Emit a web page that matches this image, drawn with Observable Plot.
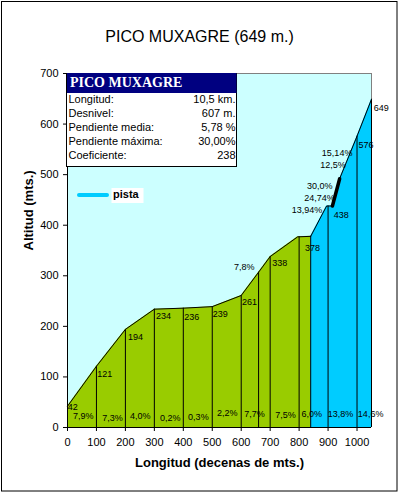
<!DOCTYPE html>
<html><head><meta charset="utf-8">
<script src="https://cdn.jsdelivr.net/npm/d3@7"></script>
<script src="https://cdn.jsdelivr.net/npm/@observablehq/plot@0.6"></script>
<style>body{margin:0;background:#fff}#chart{width:399px;height:493px}</style>
</head><body><div id="chart"></div><script>
const chartTitle = "PICO MUXAGRE (649 m.)";
const xTitle = "Longitud (decenas de mts.)";
const yTitle = "Altitud (mts.)";
const xTicks = [0,100,200,300,400,500,600,700,800,900,1000];
const yTicks = [0,100,200,300,400,500,600,700];

const greenDist = [0,100,200,300,400,500,600,660,700,795,840];
const greenAlt  = [42,121,194,234,236,239,261,307,338,377,378];
const blueDist  = [840,895,915,940,1000,1050];
const blueAlt   = [378,438,438,492,576,649];
const steepDist = [915,940];
const steepAlt  = [438,492];

const dividerDist = [100,200,300,400,500,600,660,700,800,840,900,1000,1050];
const dividerTop  = [121,194,234,236,239,261,307,338,377,378,438,576,649];

const altText = ["42","121","194","234","236","239","261","338","378","438","576","649"];
const altDist = [1,103,209,306,403,502,603,707,820,920,1005,1058];
const altPos  = [41,105,178,220,219,225,247,325,354,419,559,631];

const gradeText = ["7,9%","7,3%","4,0%","0,2%","0,3%","2,2%","7,7%","7,5%","6,0%","13,8%","14,6%"];
const gradeDist = [54,155,251,355,452,552,646,753,844,943,1047];
const gradePos  = [22,18,22,18,20,28,26,24,26,26,26];

const steepText = ["7,8%","13,94%","24,74%","30,0%","12,5%","15,14%"];
const steepTextDist = [646,880,923,915,961,984];
const steepTextPos  = [318,429,454,477,518,543];

const infoTitle = "PICO MUXAGRE";
const infoNames = ["Longitud:","Desnivel:","Pendiente media:","Pendiente máxima:","Coeficiente:"];
const infoValues = ["10,5 km.","607 m.","5,78 %","30,00%","238"];
const legendName = "pista";

const green = greenDist.map((x,i)=>({x, y: greenAlt[i]}));
const blue = blueDist.map((x,i)=>({x, y: blueAlt[i]}));
const steep = steepDist.map((x,i)=>({x, y: steepAlt[i]}));
const dividers = dividerDist.map((x,i)=>({x, top: dividerTop[i]}));
const altLabels = altText.map((t,i)=>({t, x: altDist[i], y: altPos[i]}));
const grades = gradeText.map((t,i)=>({t, x: gradeDist[i], y: gradePos[i]}));
const steepLabels = steepText.map((t,i)=>({t, x: steepTextDist[i], y: steepTextPos[i]}));

const font = "Liberation Sans, Arial, sans-serif";
const plot = Plot.plot({
  width: 399, height: 493,
  marginLeft: 67, marginRight: 28, marginTop: 73, marginBottom: 66,
  x: {domain: [0,1050]},
  y: {domain: [0,700]},
  style: {fontFamily: font, fontSize: "11px", background: "#fff", color: "#000", overflow: "visible"},
  marks: [
    Plot.frame({fill: "#CCFFFF", stroke: null}),
    Plot.ruleY([700], {stroke: "#808080"}),
    Plot.ruleX([1050], {stroke: "#808080"}),
    Plot.areaY(green, {x: "x", y: "y", fill: "#99CC00"}),
    Plot.areaY(blue, {x: "x", y: "y", fill: "#00CCFF"}),
    Plot.line(green, {x: "x", y: "y", stroke: "#000", strokeWidth: 1}),
    Plot.line(blue, {x: "x", y: "y", stroke: "#000", strokeWidth: 1}),
    Plot.line(steep, {x: "x", y: "y", stroke: "#000", strokeWidth: 3.5}),
    Plot.ruleX(dividers, {x: "x", y1: 0, y2: "top", stroke: "#000", strokeWidth: 1}),
    Plot.axisX({ticks: xTicks, tickFormat: d3.format("d"), tickSize: 4, tickPadding: 7, fontSize: 11, label: null, stroke: "#000"}),
    Plot.axisY({ticks: yTicks, tickFormat: d3.format("d"), tickSize: 4, tickPadding: 5, fontSize: 11, label: null, stroke: "#000"}),
    Plot.ruleX([0], {stroke: "#000"}),
    Plot.ruleY([0], {stroke: "#000"}),
    Plot.text(altLabels, {x: "x", y: "y", text: "t", textAnchor: "start", fontSize: 9, fill: "#000"}),
    Plot.text(grades, {x: "x", y: "y", text: "t", fontSize: 9, fill: "#000"}),
    Plot.text(steepLabels, {x: "x", y: "y", text: "t", textAnchor: "end", fontSize: 9, fill: "#000"}),
    Plot.text([chartTitle], {frameAnchor: "top", dx: -20, dy: -43, fontSize: 16, fill: "#000"}),
    Plot.text([xTitle], {frameAnchor: "bottom", dy: 39, fontSize: 13, fontWeight: "bold", fill: "#000"}),
    Plot.text([yTitle], {frameAnchor: "left", dx: -39, rotate: -90, fontSize: 13, fontWeight: "bold", fill: "#000"})
  ]
});
document.getElementById("chart").appendChild(plot);

const svg = d3.select(plot);
// outer border
svg.append("rect").attr("x", 1.5).attr("y", 1.5).attr("width", 395.5).attr("height", 489.5)
  .attr("fill", "none").attr("stroke", "#000");
// info box
const box = svg.append("g").attr("text-anchor", "start");
box.append("rect").attr("x", 66.5).attr("y", 73.5).attr("width", 170).attr("height", 93)
  .attr("fill", "#fff").attr("stroke", "#000");
box.append("rect").attr("x", 67).attr("y", 73).attr("width", 169.5).attr("height", 20).attr("fill", "#000080");
box.append("text").attr("x", 70).attr("y", 83.5).attr("dominant-baseline", "middle").attr("text-anchor", "start")
  .attr("font-family", "Liberation Serif, Times New Roman, serif").attr("font-weight", "bold")
  .attr("font-size", 14).attr("fill", "#fff").text(infoTitle);
infoNames.forEach((n, i) => {
  const y = 100.5 + i * 14;
  box.append("text").attr("x", 68.5).attr("y", y).attr("dominant-baseline", "middle").attr("text-anchor", "start")
    .attr("font-family", font).attr("font-size", 11).attr("fill", "#000").text(n);
  box.append("text").attr("x", 235.5).attr("y", y).attr("dominant-baseline", "middle").attr("text-anchor", "end")
    .attr("font-family", font).attr("font-size", 11).attr("fill", "#000").text(infoValues[i]);
});
// legend
const lg = svg.append("g").attr("text-anchor", "start");
lg.append("line").attr("x1", 79).attr("x2", 107).attr("y1", 195).attr("y2", 195)
  .attr("stroke", "#00CCFF").attr("stroke-width", 4).attr("stroke-linecap", "round");
lg.append("rect").attr("x", 111.5).attr("y", 188).attr("width", 32).attr("height", 15).attr("fill", "#fff");
lg.append("text").attr("x", 113).attr("y", 195.5).attr("dominant-baseline", "middle").attr("text-anchor", "start")
  .attr("font-family", font).attr("font-weight", "bold").attr("font-size", 11).attr("fill", "#000").text(legendName);
</script></body></html>
